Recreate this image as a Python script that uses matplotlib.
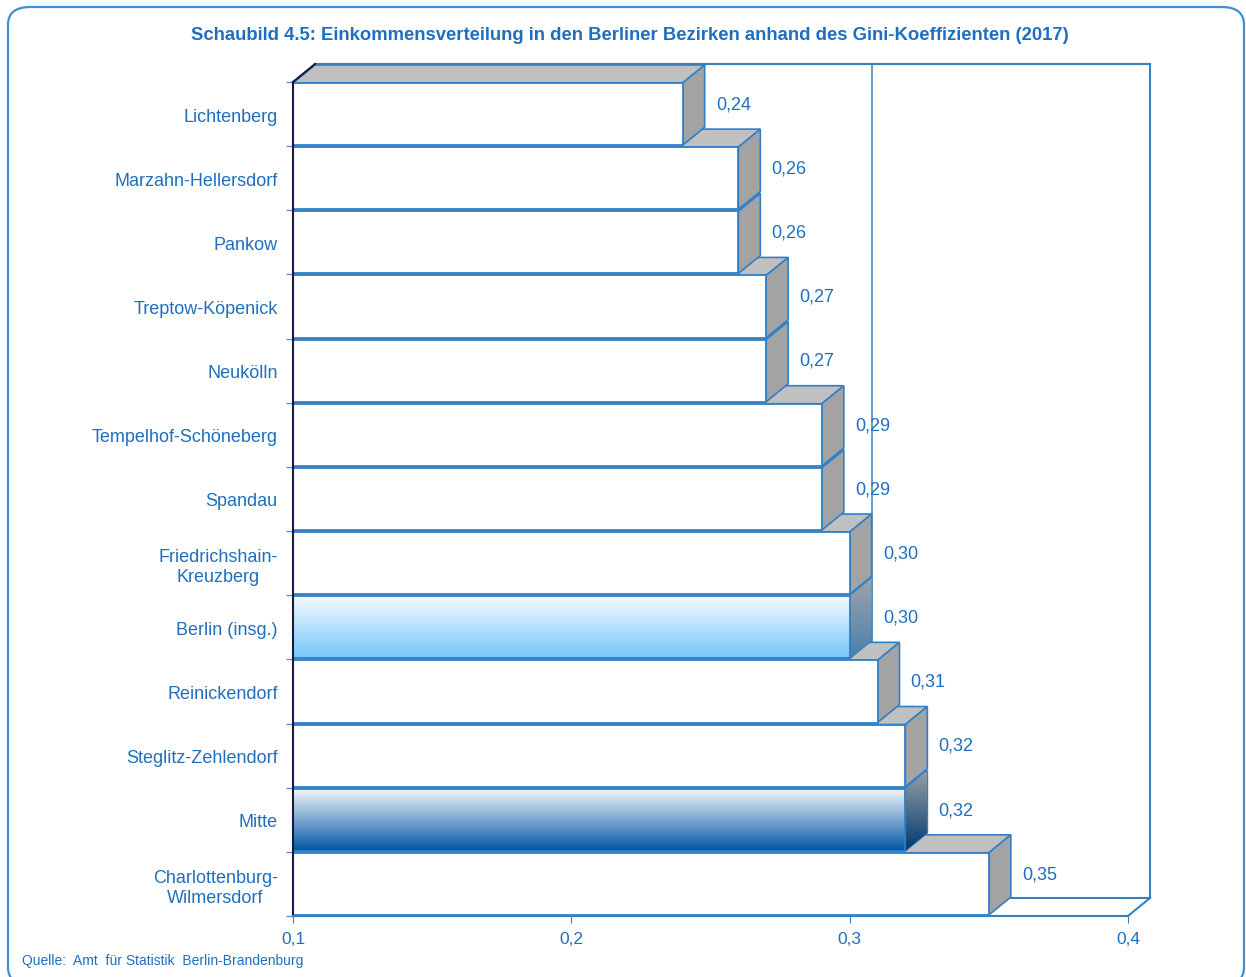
import numpy as np
import matplotlib.pyplot as plt
from matplotlib.patches import Polygon, FancyBboxPatch

plt.rcParams['font.family'] = ['Liberation Sans', 'DejaVu Sans']

# data (top to bottom as in the chart)
districts = ["Lichtenberg", "Marzahn-Hellersdorf", "Pankow", "Treptow-Köpenick",
             "Neukölln", "Tempelhof-Schöneberg", "Spandau", "Friedrichshain-\nKreuzberg",
             "Berlin (insg.)", "Reinickendorf", "Steglitz-Zehlendorf", "Mitte",
             "Charlottenburg-\nWilmersdorf"]
gini = [0.24, 0.26, 0.26, 0.27, 0.27, 0.29, 0.29, 0.30, 0.30, 0.31, 0.32, 0.32, 0.35]
xticks = [0.1, 0.2, 0.3, 0.4]
xtick_labels = ["0,1", "0,2", "0,3", "0,4"]

title = "Schaubild 4.5: Einkommensverteilung in den Berliner Bezirken anhand des Gini-Koeffizienten (2017)"
source = "Quelle:  Amt  für Statistik  Berlin-Brandenburg"

BLUE = "#1f6fbe"
EDGE = "#2f80c8"
WALL = "#3582be"

W, H = 1246, 978
fig = plt.figure(figsize=(W / 100, H / 100), dpi=100)

# rounded frame around the whole picture
frame = FancyBboxPatch((8 / W, -8 / H), (W - 10) / W, (H - 0) / H,
                       boxstyle="round,pad=0,rounding_size=0.018",
                       transform=fig.transFigure, fc="none", ec="#3d8fd6", lw=1.6)
fig.patches.append(frame)

# axes placed so that 0.1 -> 293px, 0.4 -> 1128px, rows from 917px to 83px
x0, x1 = 0.1, 0.4
pxu = (1128 - 293) / 0.3
dx = 22 / pxu
n = len(districts)
slot = (917 - 83) / n
dy = 18 / slot
left, right = 293, 1128 + 22
bottom, top = 917, 83 - 18
ax = fig.add_axes([left / W, (H - bottom) / H, (right - left) / W, (bottom - top) / H])
ax.set_xlim(x0, x1 + dx)
ax.set_ylim(0, n + dy)
ax.patch.set_alpha(0)

# back wall and grid lines
ax.plot([x0 + dx, x1 + dx], [n + dy, n + dy], color=WALL, lw=1.5, zorder=1, clip_on=False)
ax.plot([x1 + dx, x1 + dx], [dy, n + dy], color=WALL, lw=1.5, zorder=1, clip_on=False)
ax.plot([x0 + dx, x1 + dx], [dy, dy], color=WALL, lw=1.5, zorder=1)
for t in xticks[1:3]:
    ax.plot([t + dx, t + dx], [dy, n + dy], color=WALL, lw=1.1, zorder=1)
ax.plot([x1, x1 + dx], [0, dy], color=WALL, lw=1.5, zorder=1, clip_on=False)
ax.plot([x0, x0 + dx], [n, n + dy], color="#1a1a40", lw=1.5, zorder=200, clip_on=False)


def gradient_fill(poly, c_top, c_bot, y_lo, y_hi, xs, z):
    grad = np.linspace(0, 1, 256)[:, None]
    c1 = np.array(plt.matplotlib.colors.to_rgb(c_top))
    c2 = np.array(plt.matplotlib.colors.to_rgb(c_bot))
    img = c1[None, None, :] * (1 - grad[:, :, None]) + c2[None, None, :] * grad[:, :, None]
    im = ax.imshow(img, extent=(xs[0], xs[1], y_lo, y_hi), origin="upper",
                   aspect="auto", zorder=z, interpolation="bilinear")
    im.set_clip_path(poly)


special = {
    "Berlin (insg.)": ("#f6fbff", "#78c6fa", "#a0a4a8", "#4a7fae"),
    "Mitte": ("#f6f9fd", "#0056a4", "#9aa0a6", "#003a70"),
}

bh = 0.97
for k, (name, v) in enumerate(zip(districts[::-1], gini[::-1])):
    yc = k + 0.5
    y0, y1 = yc - bh / 2, yc + bh / 2
    z = 10 + 5 * k
    topface = Polygon([(x0, y1), (v, y1), (v + dx, y1 + dy), (x0 + dx, y1 + dy)],
                      closed=True, fc="#c0c0c0", ec=EDGE, lw=1.2, zorder=z)
    ax.add_patch(topface)
    side = Polygon([(v, y0), (v + dx, y0 + dy), (v + dx, y1 + dy), (v, y1)],
                   closed=True, fc="#a3a3a3", ec=EDGE, lw=1.2, zorder=z + 1)
    ax.add_patch(side)
    front = Polygon([(x0, y0), (v, y0), (v, y1), (x0, y1)], closed=True,
                    fc="white", ec=EDGE, lw=1.3, zorder=z + 3)
    ax.add_patch(front)
    if name in special:
        ft, fb, st, sb = special[name]
        front.set_facecolor("none")
        side.set_facecolor("none")
        gradient_fill(front, ft, fb, y0, y1, (x0, v), z + 2)
        gradient_fill(side, st, sb, y0, y1 + dy, (v, v + dx), z + 1.5)
    ax.text(v + dx + 0.004, yc + 0.16, f"{v:.2f}".replace(".", ","), color=BLUE,
            fontsize=13, ha="left", va="center", zorder=300)

# axes styling
for s in ["top", "right"]:
    ax.spines[s].set_visible(False)
ax.spines["left"].set_bounds(0, n)
ax.spines["left"].set_color("#1a1a40")
ax.spines["left"].set_linewidth(1.5)
ax.spines["left"].set_zorder(250)
ax.spines["bottom"].set_bounds(x0, x1)
ax.spines["bottom"].set_color(WALL)
ax.spines["bottom"].set_linewidth(1.5)
ax.spines["bottom"].set_zorder(250)

ax.set_xticks(xticks)
ax.set_xticklabels(xtick_labels)
ax.tick_params(axis="x", length=5, color=WALL, labelcolor=BLUE, labelsize=12.5, pad=6)
ax.set_yticks(np.arange(n + 1))
ax.set_yticklabels([])
ax.tick_params(axis="y", which="major", length=5, color="#8080c8", width=1)
ax.set_yticks(np.arange(n) + 0.5, minor=True)
ax.set_yticklabels(districts[::-1], minor=True)
ax.tick_params(axis="y", which="minor", length=0, pad=11, labelcolor=BLUE, labelsize=13)
for lab in ax.get_yticklabels(minor=True):
    lab.set_multialignment("center")

fig.text(630 / W, 1 - 35 / H, title, ha="center", va="center", color=BLUE,
         fontsize=13.3, fontweight="bold")
fig.text(22 / W, 1 - 961 / H, source, ha="left", va="center", color=BLUE, fontsize=10)

fig.savefig("out.png", dpi=100)
